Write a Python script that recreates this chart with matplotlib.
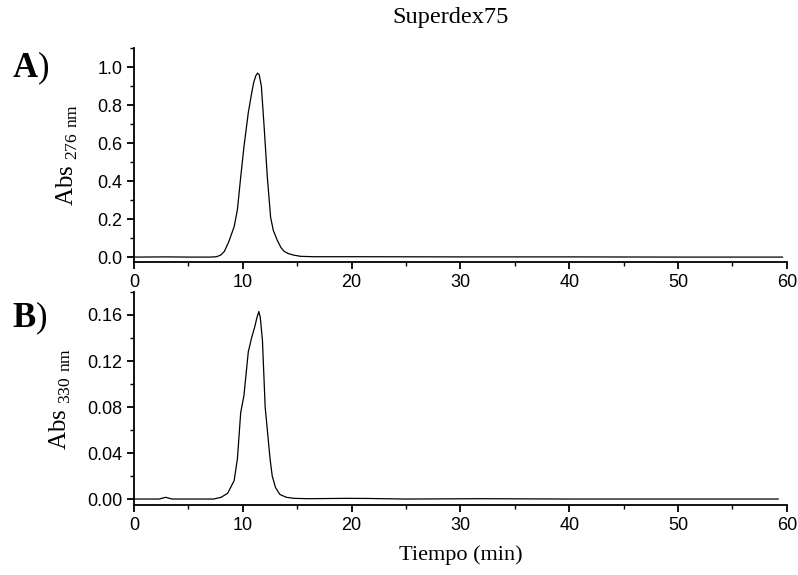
import matplotlib
matplotlib.use("Agg")
import matplotlib.pyplot as plt
from matplotlib.ticker import MultipleLocator

plt.rcParams['font.family'] = 'Liberation Sans'
plt.rcParams['mathtext.fontset'] = 'custom'
plt.rcParams['mathtext.rm'] = 'Liberation Serif'
plt.rcParams['mathtext.bf'] = 'Liberation Serif:bold'

# panel A: absorbance at 276 nm
time_a = [0, 3, 5, 7, 7.6, 8.0, 8.3, 8.7, 9.2, 9.5, 9.8, 10.1, 10.5, 10.8,
          11.0, 11.2, 11.35, 11.5, 11.7, 11.95, 12.25, 12.55, 12.8, 13.15,
          13.5, 13.8, 14.2, 14.7, 15.3, 16.5, 20, 30, 40, 50, 59.6]
abs_a = [0, 0.001, 0, 0, 0.002, 0.012, 0.03, 0.08, 0.16, 0.25, 0.42, 0.58,
         0.76, 0.86, 0.92, 0.955, 0.968, 0.96, 0.9, 0.69, 0.42, 0.21, 0.14,
         0.09, 0.05, 0.03, 0.018, 0.01, 0.004, 0.002, 0.002, 0.001, 0.001,
         0.0, 0.0]

# panel B: absorbance at 330 nm
time_b = [0, 2.3, 2.9, 3.5, 5, 7.3, 8.0, 8.6, 9.2, 9.5, 9.8, 10.1, 10.5,
          10.8, 11.1, 11.3, 11.47, 11.6, 11.8, 12.05, 12.3, 12.5, 12.7, 13.0,
          13.4, 14.0, 14.7, 16, 19.5, 21.5, 25, 32, 40, 50, 59.2]
abs_b = [0, 0, 0.0015, 0, 0, 0, 0.0015, 0.005, 0.016, 0.035, 0.075, 0.09,
         0.128, 0.14, 0.15, 0.158, 0.163, 0.158, 0.138, 0.08, 0.055, 0.035,
         0.02, 0.01, 0.004, 0.0015, 0.0006, 0.0003, 0.0006, 0.0005, 0, 0.0003,
         0, 0, 0]

fig = plt.figure(figsize=(7.98, 5.75), dpi=100)
ax1 = fig.add_axes([0.168, 0.5443, 0.818, 0.3722])
ax2 = fig.add_axes([0.168, 0.1217, 0.818, 0.3705])


def style(ax, ymaj, ymin):
    for s in ['top', 'right']:
        ax.spines[s].set_visible(False)
    for s in ['left', 'bottom']:
        ax.spines[s].set_linewidth(1.3)
    ax.set_xlim(0, 60)
    ax.xaxis.set_major_locator(MultipleLocator(10))
    ax.xaxis.set_minor_locator(MultipleLocator(5))
    ax.yaxis.set_major_locator(MultipleLocator(ymaj))
    ax.yaxis.set_minor_locator(MultipleLocator(ymin))
    ax.tick_params(which='major', direction='out', length=5, width=1.3,
                   labelsize=13)
    ax.tick_params(which='minor', direction='out', length=3, width=1.0)


ax1.plot(time_a, abs_a, color='black', lw=0.9)
style(ax1, 0.2, 0.1)
ax1.set_ylim(-0.026, 1.1)
ax1.set_yticks([0.0, 0.2, 0.4, 0.6, 0.8, 1.0])
ax1.set_yticklabels(['0.0', '0.2', '0.4', '0.6', '0.8', '1.0'])
ax1.set_ylabel(r'$\mathrm{Abs}_{\ \mathrm{276\ nm}}$', fontsize=18, labelpad=12)

ax2.plot(time_b, abs_b, color='black', lw=0.9)
style(ax2, 0.04, 0.02)
ax2.set_ylim(-0.0052, 0.18)
ax2.set_yticks([0.0, 0.04, 0.08, 0.12, 0.16])
ax2.set_yticklabels(['0.00', '0.04', '0.08', '0.12', '0.16'])
ax2.set_ylabel(r'$\mathrm{Abs}_{\ \mathrm{330\ nm}}$', fontsize=18, labelpad=10)
ax2.set_xlabel('Tiempo (min)', family='Liberation Serif', fontsize=16,
               labelpad=8)

fig.text(0.564, 0.970, 'Superdex75', family='Liberation Serif', fontsize=17.5,
         ha='center', va='center')
fig.text(0.015, 0.866, r'$\mathbf{A}$)', family='Liberation Serif',
         fontsize=25, va='baseline')
fig.text(0.015, 0.431, r'$\mathbf{B}$)', family='Liberation Serif',
         fontsize=25, va='baseline')

fig.savefig('out.png', dpi=100)
